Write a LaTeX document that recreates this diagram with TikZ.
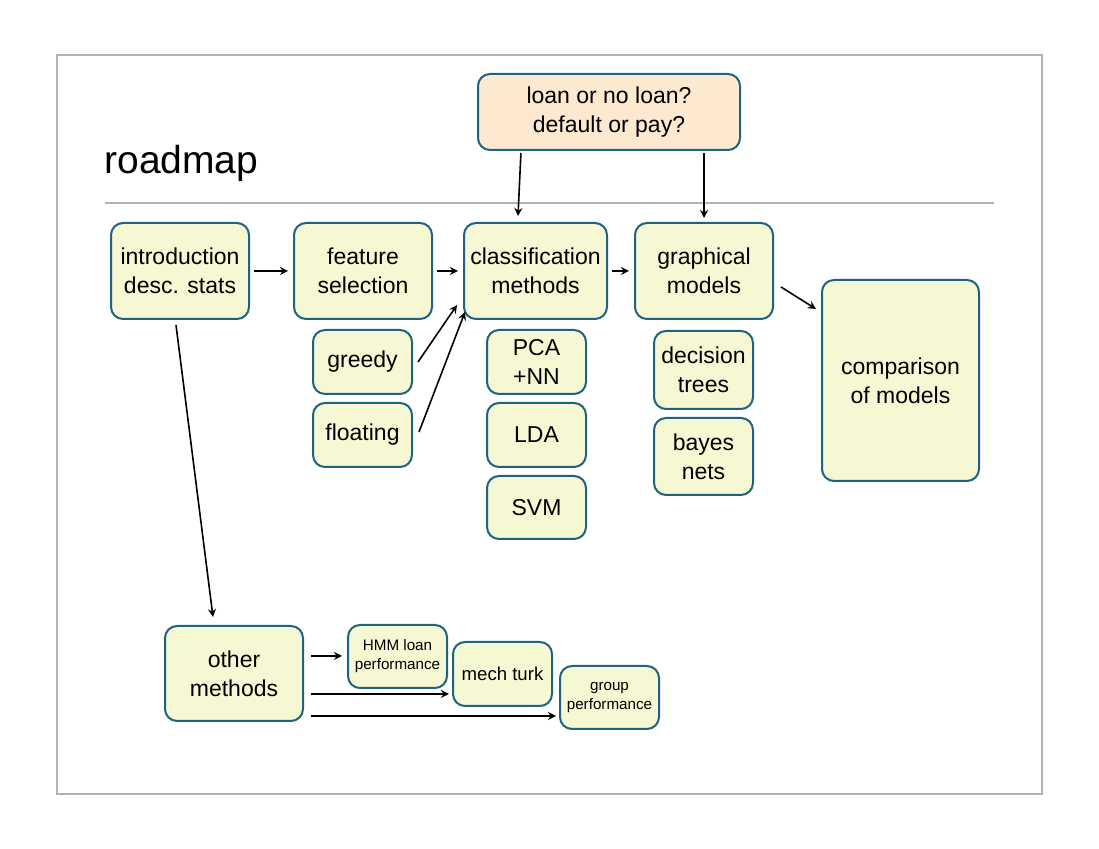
\documentclass[tikz,border=0pt]{standalone}
\usepackage{fontspec}
\setmainfont{Liberation Sans}
\usetikzlibrary{calc}

\definecolor{boxfill}{RGB}{245,248,211}
\definecolor{qfill}{RGB}{253,232,208}
\definecolor{boxline}{RGB}{30,100,130}
\definecolor{framegray}{RGB}{178,178,178}

\begin{document}
\begin{tikzpicture}[x=0.5pt, y=-0.5pt,
    box/.style={draw=boxline, fill=boxfill, line width=1pt, rounded corners=6pt,
                align=center, inner sep=0pt, font=\fontsize{11.5}{14.5}\selectfont},
    smallbox/.style={box, font=\fontsize{7.6}{9.5}\selectfont},
    wh/.style 2 args={minimum width=#1*0.5pt, minimum height=#2*0.5pt},
    arr/.style={-stealth, line width=0.8pt, shorten <=2pt, shorten >=2.5pt}]
    \useasboundingbox (0,0) rectangle (1099,849);
    % slide frame
    \draw [framegray, line width=0.6pt] (57,55) rectangle (1042,794);
    \node [anchor=base west, inner sep=0pt, font=\fontsize{19.5}{22}\selectfont] (title) at (104,174) {roadmap};
    \draw [framegray, line width=0.6pt] (105,203) -- (994,203);

    % question on top
    \node [box, fill=qfill, wh={262}{76}] (loan) at (609,112) {loan or no loan?\\default or pay?};

    % main row
    \node [box, wh={138}{96}] (intro) at (180,271) {introduction\\desc. stats};
    \node [box, wh={138}{96}] (feature) at (363,271) {feature\\selection};
    \node [box, wh={143}{96}] (classif) at (535.5,271) {classification\\methods};
    \node [box, wh={138}{96}] (graphical) at (704,271) {graphical\\models};
    \node [box, wh={157}{201}] (compare) at (900.5,380.5) {comparison\\of models};

    % sub boxes
    \node [box, wh={99}{64}] (greedy) at (362.5,362) {greedy};
    \node [box, wh={99}{64}] (floating) at (362.5,435) {floating};
    \node [box, wh={99}{64}] (pca) at (536.5,362) {PCA\\+NN};
    \node [box, wh={99}{64}] (lda) at (536.5,435) {LDA};
    \node [box, wh={99}{63}] (svm) at (536.5,507.5) {SVM};
    \node [box, wh={99}{78}] (dtrees) at (703.5,370) {decision\\trees};
    \node [box, wh={99}{77}] (bayes) at (703.5,456.5) {bayes\\nets};

    % other methods
    \node [box, wh={138}{95}] (other) at (234,673.5) {other\\methods};
    \node [smallbox, wh={99}{63}] (hmm) at (397.5,656.5) {HMM loan\\performance};
    \node [box, wh={99}{64}, font=\fontsize{9.3}{11}\selectfont] (mturk) at (502.5,674) {mech turk};
    \node [smallbox, wh={99}{63}] (group) at (609.5,697.5) {group\\performance};

    % arrows
    \draw [arr] (intro.east) -- (feature.west);
    \draw [arr] (feature.east) -- (classif.west);
    \draw [arr] (classif.east) -- (graphical.west);
    \draw [arr, shorten <=0pt, shorten >=0pt] ($(graphical.east)+(7,16)$) -- ($(compare.north west)+(-5,30)$);
    \draw [arr, shorten <=1pt, shorten >=0pt] ($(loan.south)+(-88,0)$) -- ($(classif.north)+(-17.5,-6)$);
    \draw [arr, shorten <=1pt, shorten >=0pt] ($(loan.south)+(95,0)$) -- ($(graphical.north)+(0,-4)$);
    \draw [arr, shorten <=0pt, shorten >=0pt] ($(greedy.east)+(5,0)$) -- ($(classif.south west)+(-6,-15)$);
    \draw [arr, shorten <=0pt, shorten >=0pt] ($(floating.east)+(6,-3)$) -- ($(classif.south west)+(2,-8)$);
    \draw [arr, shorten <=0pt, shorten >=0pt] ($(intro.south)+(-4,5)$) -- ($(other.north)+(-21,-8)$);
    \draw [arr, shorten <=0pt, shorten >=0pt] ($(other.east)+(7,-17.5)$) -- ($(hmm.west)+(-5,-0.5)$);
    \draw [arr, shorten <=0pt, shorten >=0pt] ($(other.east)+(7,20.5)$) -- ($(mturk.west)+(-3,20)$);
    \draw [arr, shorten <=0pt, shorten >=0pt] ($(other.east)+(7,42.5)$) -- ($(group.west)+(-3,18.5)$);
\end{tikzpicture}
\end{document}
